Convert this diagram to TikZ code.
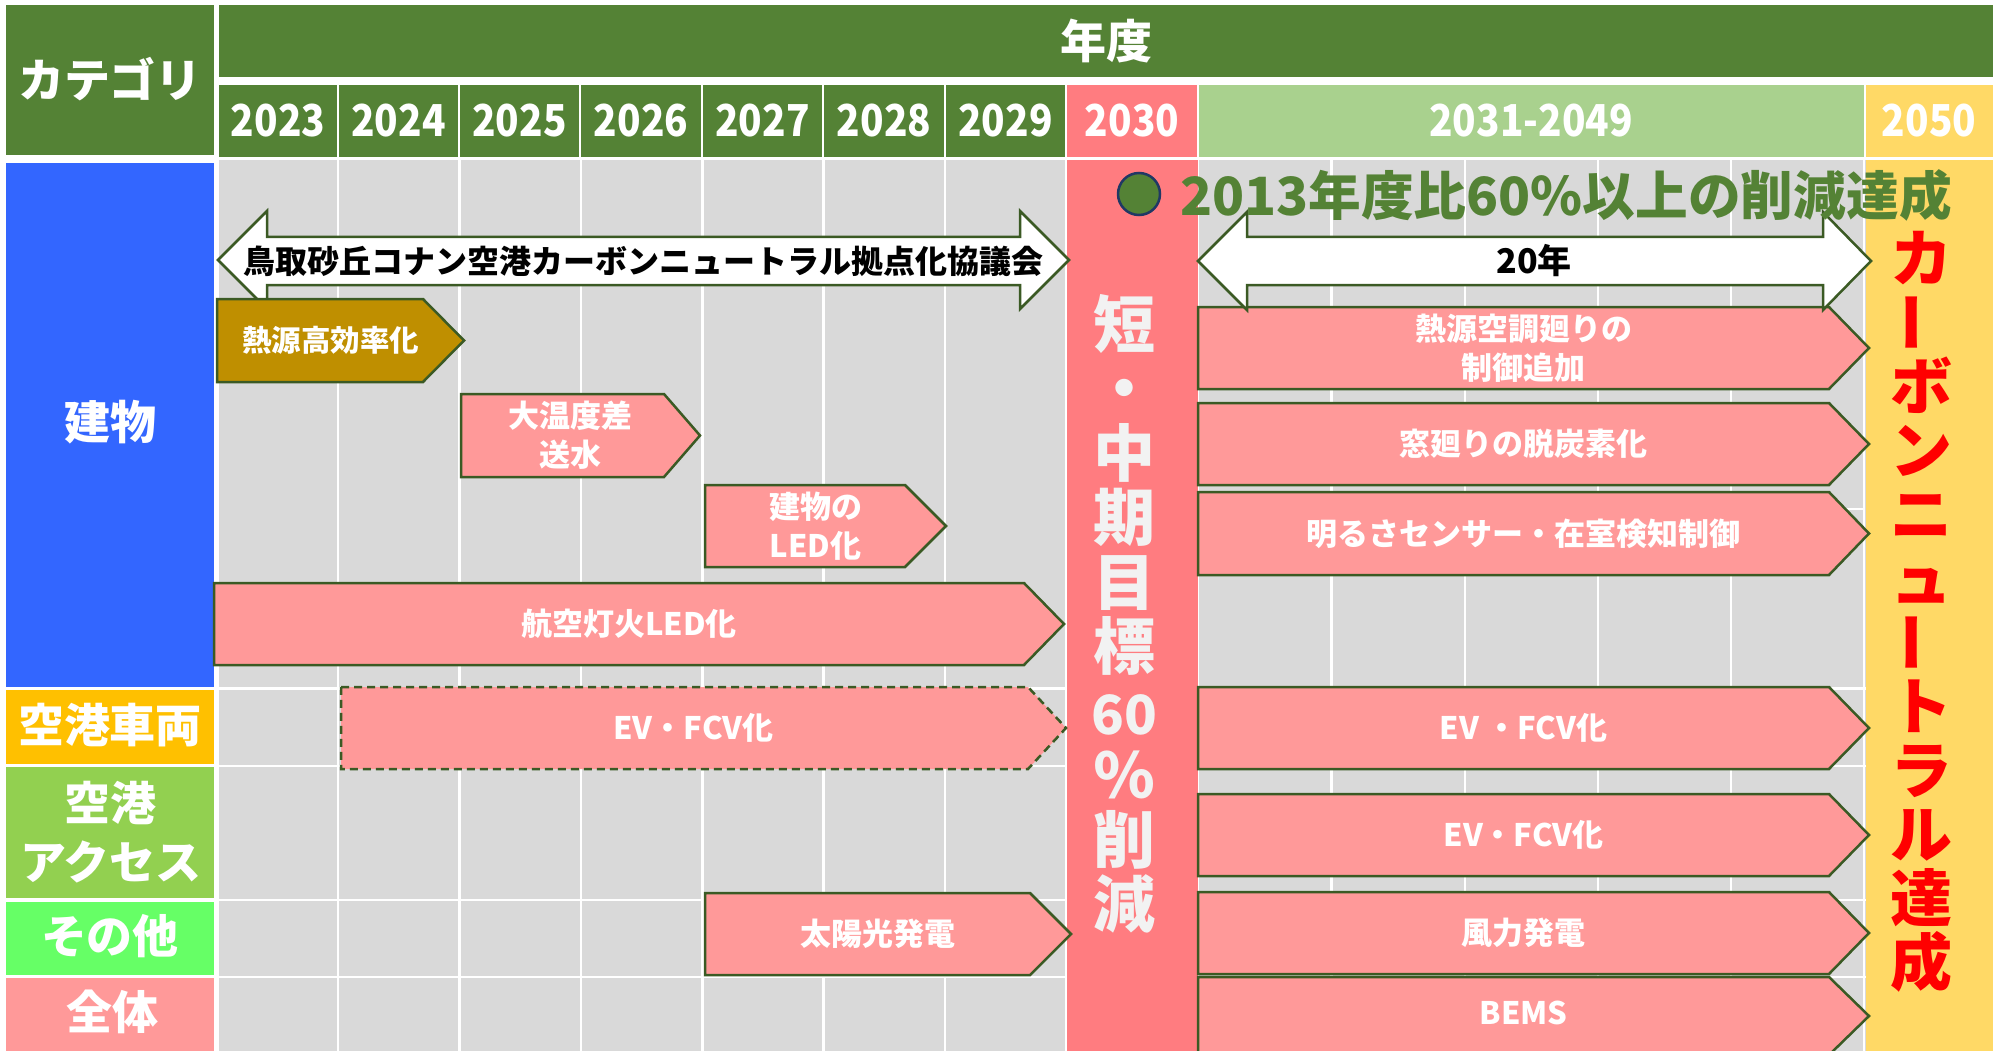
\documentclass[tikz,border=0pt]{standalone}
\usepackage{fontspec}
\usepackage{graphicx}
\setmainfont{Noto Sans CJK JP}
\newfontfamily\narrowfont{Noto Sans CJK JP}[FakeStretch=0.88]
\definecolor{hdr}{HTML}{548235}
\definecolor{gridc}{HTML}{D9D9D9}
\definecolor{c2030}{HTML}{FF7C80}
\definecolor{c2031}{HTML}{A9D18E}
\definecolor{c2050}{HTML}{FFD966}
\definecolor{bldg}{HTML}{3366FF}
\definecolor{veh}{HTML}{FFC000}
\definecolor{acc}{HTML}{92D050}
\definecolor{oth}{HTML}{66FF66}
\definecolor{allc}{HTML}{FF9999}
\definecolor{boxc}{HTML}{FF9999}
\definecolor{goldc}{HTML}{BF8F00}
\definecolor{edgec}{HTML}{3B5A24}
\definecolor{circb}{HTML}{203864}
\definecolor{vtext}{HTML}{F2F2F2}
\definecolor{redt}{HTML}{FF0000}
\newcommand{\hpbox}[7]{%
  \draw[#7] (#2,#5) -- (#3,#5) -- (#4,{(#5+#6)/2}) -- (#3,#6) -- (#2,#6) -- cycle;
  \coordinate (#1) at ({(#2+#4-20)/2},{(#5+#6)/2});}
\newcommand{\vbar}{\smash{\raisebox{0.14em}{\rotatebox[origin=c]{90}{ー}}}}
\begin{document}
\begin{tikzpicture}[x=1pt,y=-1pt,
  hdrtext/.style={inner sep=0pt, text=white, font=\fontsize{46}{52}\selectfont\bfseries},
  cattext/.style={inner sep=0pt, text=white, align=center, font=\fontsize{46}{59}\selectfont\bfseries},
  yeartext/.style={inner sep=0pt, text=white, font=\narrowfont\fontsize{44}{50}\selectfont\bfseries},
  gline/.style={white, line width=2.5pt},
  taskbox/.style={fill=boxc, draw=edgec, line width=2.5pt, line join=miter},
  goldbox/.style={fill=goldc, draw=edgec, line width=2.5pt},
  dashbox/.style={fill=boxc, draw=edgec, line width=2.5pt, dash pattern=on 8pt off 5pt},
  boxtxt/.style={inner sep=0pt, text=white, align=center, font=\fontsize{31}{39}\selectfont\bfseries},
  bigarrow/.style={fill=white, draw=edgec, line width=2.5pt},
  arrtxt/.style={inner sep=0pt, text=black, font=\fontsize{32}{38}\selectfont\bfseries},
  vstack/.style={inner sep=0pt, align=center, font=\fontsize{62}{64.5}\selectfont\bfseries}
]
\useasboundingbox (0,0) rectangle (1995,1051);
\fill[white] (0,0) rectangle (1995,1051);

% ---------- header ----------
\fill[hdr] (6,5) rectangle (214,155);
\node[hdrtext] (cat) at (110,79) {カテゴリ};
\fill[hdr] (219,5) rectangle (1993,77);
\node[hdrtext] (nendo) at (1106,41) {年度};
\foreach \a/\b/\t in {219/337/2023, 339/458/2024, 460/579/2025, 581/701/2026, 703/822/2027, 824/944/2028, 946/1065/2029}{
  \fill[hdr] (\a,85) rectangle (\b,157);
  \node[yeartext] (y\t) at ({(\a+\b)/2},121) {\t};
}
\fill[c2030] (1067,85) rectangle (1197,157);
\node[yeartext] (y2030) at (1132,121) {2030};
\fill[c2031] (1199,85) rectangle (1864,157);
\node[yeartext] (y2031) at (1531,121) {2031-2049};
\fill[c2050] (1866,85) rectangle (1993,157);
\node[yeartext] (y2050) at (1929,121) {2050};

% ---------- grid ----------
\fill[gridc] (216,160) rectangle (1993,1051);
\foreach \x in {217.5,338,459.5,581,702.5,823.5,945,1066,1198,1331.5,1465,1598,1731,1864}{
  \draw[gline] (\x,160) -- (\x,1051);
}
\foreach \y in {688.5,766,900,977}{
  \draw[gline] (216,\y) -- (1993,\y);
}
\draw[gline] (1198,509) -- (1864,509);
\fill[c2030] (1067,160) rectangle (1198,1051);
\fill[c2050] (1866,160) rectangle (1993,1051);

% ---------- categories ----------
\fill[bldg] (6,163) rectangle (214,687);
\node[cattext] (cbldg) at (110,422) {建物};
\fill[veh] (6,690) rectangle (214,764);
\node[cattext] (cveh) at (110,725) {空港車両};
\fill[acc] (6,767) rectangle (214,898);
\node[cattext] (cacc) at (111,832) {空港\\アクセス};
\fill[oth] (6,902) rectangle (214,975);
\node[cattext] (coth) at (110,936) {その他};
\fill[allc] (6,978) rectangle (214,1051);
\node[cattext] (call) at (112,1012) {全体};

% ---------- council arrow ----------
\draw[bigarrow] (218,260) -- (267,211) -- (267,237) -- (1020,237) -- (1020,211) -- (1069,260)
  -- (1020,309) -- (1020,285) -- (267,285) -- (267,309) -- cycle;
\coordinate (council) at (643.5,261);
\node[arrtxt] (councilt) at (council) {鳥取砂丘コナン空港カーボンニュートラル拠点化協議会};

% ---------- left task boxes ----------
\hpbox{bnetsu}{217}{423}{464}{299}{382}{goldbox}
\node[boxtxt, font=\fontsize{29.5}{36}\selectfont\bfseries] (tnetsu) at (bnetsu) {熱源高効率化};
\hpbox{bdaion}{461}{664}{700}{394}{477}{taskbox}
\node[boxtxt] (tdaion) at (bdaion) {大温度差\\送水};
\hpbox{bled}{705}{905}{946}{485}{567}{taskbox}
\node[boxtxt] (tled) at (bled) {建物の\\LED化};
\hpbox{bkoku}{214}{1024}{1064}{583}{665}{taskbox}
\node[boxtxt] (tkoku) at (bkoku) {航空灯火LED化};
\hpbox{bev1}{341}{1028}{1066}{687}{769}{dashbox}
\node[boxtxt] (tev1) at (bev1) {EV・FCV化};
\hpbox{bsolar}{705}{1030}{1071}{893}{975}{taskbox}
\node[boxtxt] (tsolar) at (bsolar) {太陽光発電};

% ---------- right task boxes ----------
\hpbox{bhvac}{1198}{1829}{1869}{307}{389}{taskbox}
\node[boxtxt] (thvac) at (bhvac) {熱源空調廻りの\\制御追加};
\hpbox{bwin}{1198}{1829}{1869}{403}{485}{taskbox}
\node[boxtxt] (twin) at (bwin) {窓廻りの脱炭素化};
\hpbox{bsens}{1198}{1829}{1869}{492}{575}{taskbox}
\node[boxtxt] (tsens) at (bsens) {明るさセンサー・在室検知制御};
\hpbox{bev2}{1198}{1829}{1869}{687}{769}{taskbox}
\node[boxtxt] (tev2) at (bev2) {EV ・FCV化};
\hpbox{bev3}{1198}{1829}{1869}{794}{876}{taskbox}
\node[boxtxt] (tev3) at (bev3) {EV・FCV化};
\hpbox{bwind}{1198}{1829}{1869}{892}{974}{taskbox}
\node[boxtxt] (twind) at (bwind) {風力発電};
\hpbox{bbems}{1198}{1829}{1869}{977}{1055}{taskbox}
\node[boxtxt] (tbems) at (1523.5,1013) {BEMS};

% ---------- 20 year arrow ----------
\draw[bigarrow] (1198,261) -- (1247,212) -- (1247,237) -- (1823,237) -- (1823,212) -- (1871,261)
  -- (1823,310) -- (1823,285) -- (1247,285) -- (1247,310) -- cycle;
\coordinate (twenty) at (1534,261);
\node[arrtxt, font=\fontsize{34}{40}\selectfont\bfseries] (twentyt) at (twenty) {20年};

% ---------- 2030 target note ----------
\node[circle, minimum size=42pt, inner sep=0pt, fill=hdr, draw=circb, line width=2.5pt] (dot) at (1139,194) {};
\node[inner sep=0pt, anchor=base west, text=hdr, font=\fontsize{52.7}{58}\selectfont\bfseries] (goal) at (1180,216) {2013年度比60\%以上の削減達成};

% ---------- vertical texts ----------
\node[vstack, text=vtext] (mid) at (1124,614) {短\\・\\中\\期\\目\\標\\{\fontsize{54}{64.5}\selectfont 60}\\％\\削\\減};
\node[vstack, text=redt, font=\fontsize{62}{64}\selectfont\bfseries] (cn) at (1921,612) {カ\\\vbar\\ボ\\ン\\ニ\\ュ\\\vbar\\ト\\ラ\\ル\\達\\成};
\end{tikzpicture}
\end{document}
